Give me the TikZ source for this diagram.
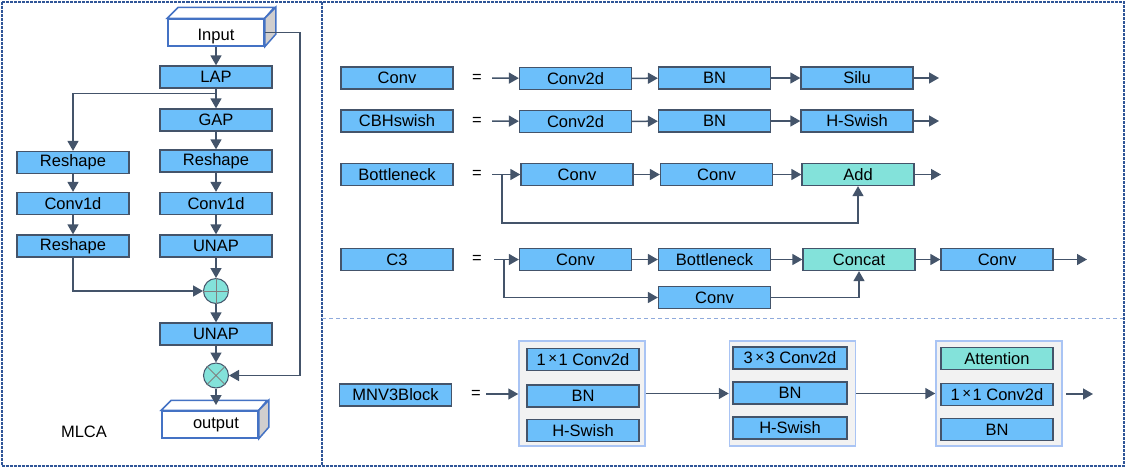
\documentclass[tikz,border=0pt]{standalone}
\usepackage{fontspec}
\setmainfont{Liberation Sans}
\usetikzlibrary{arrows.meta}
\definecolor{boxblue}{HTML}{6CBFFA}
\definecolor{edgegray}{HTML}{44546A}
\definecolor{addteal}{HTML}{83E2DA}
\definecolor{frameblue}{HTML}{2F5597}
\definecolor{lineblue}{HTML}{8FAADC}
\definecolor{groupedge}{HTML}{A9C4F4}
\definecolor{cubeblue}{HTML}{4472C4}
\definecolor{sidegray}{HTML}{D0CECE}
\newcommand{\tms}{\kern2.5pt\raisebox{1.5pt}{\fontsize{15}{15}\selectfont ×}\kern1.5pt}
\tikzset{
    blk/.style={draw=edgegray,line width=1.3pt,fill=boxblue,minimum width=112pt,minimum height=22pt,inner sep=0pt},
    tealblk/.style={blk,fill=addteal},
    grp/.style={draw=groupedge,line width=1.5pt,fill=black!5,minimum width=126pt,minimum height=105pt,inner sep=0pt},
    opnode/.style={circle,draw=edgegray,line width=1pt,fill=addteal,minimum size=25pt,inner sep=0pt},
    arr/.style={draw=edgegray,line width=1.5pt,-{Triangle[length=10pt,width=11pt]}},
    cube/.style={draw=cubeblue,line width=1.5pt,line join=miter},
}
\begin{document}
\begin{tikzpicture}[x=1pt,y=-1pt,font=\fontsize{16.5}{19}\selectfont]
        \useasboundingbox (0,0) rectangle (1125,467);
        \draw[frameblue,line width=2pt,dash pattern=on 3pt off 1pt] (1.5,1.5) rectangle (1123.5,465.5);
        \draw[frameblue,line width=2pt,dash pattern=on 3pt off 1pt] (322,1.5) -- (322,465.5);
        \draw[lineblue,line width=1pt,dash pattern=on 4pt off 3pt] (322,318) -- (1123,318);
        % MLCA
        \node[cube,fill=white,minimum width=96pt,minimum height=27pt] (inbox) at (216,32.5) {};
        \draw[cube,fill=white] (inbox.north west) -- ++(11,-11) -- ++(96,0) -- (inbox.north east) -- cycle;
        \draw[cube,fill=sidegray] (inbox.north east) -- ++(11,-11) -- ++(0,27) -- (inbox.south east) -- cycle;
        \node (intext) at (216,37) {Input};
        \node[blk] (lap) at (216,77) {LAP};
        \node[blk] (gap) at (216,120) {GAP};
        \node[blk] (rsR) at (216,161) {Reshape};
        \node[blk] (cvR) at (216,203.5) {Conv1d};
        \node[blk] (unap) at (216,246) {UNAP};
        \node[blk] (rsL) at (73,162.5) {Reshape};
        \node[blk] (cvL) at (73,203.5) {Conv1d};
        \node[blk] (rsL2) at (73,246) {Reshape};
        \node[opnode] (plus) at (216,291) {};
        \draw[gray,line width=1pt] (plus.north) -- (plus.south) (plus.west) -- (plus.east);
        \node[blk] (unap2) at (216,334) {UNAP};
        \node[opnode] (times) at (216,375.5) {};
        \draw[gray,line width=1pt] (times.north east) -- (times.south west) (times.north west) -- (times.south east);
        \node[cube,fill=white,minimum width=96pt,minimum height=27pt] (outbox) at (210,424.5) {};
        \draw[cube,fill=white] (outbox.north west) -- ++(10,-10) -- ++(96,0) -- (outbox.north east) -- cycle;
        \draw[cube,fill=sidegray] (outbox.north east) -- ++(10,-10) -- ++(0,27) -- (outbox.south east) -- cycle;
        \node (outtext) at (216,425) {output};
        \coordinate (outtop) at (216,405);
        \node (mlca) at (84,432) {MLCA};
        \draw[arr] (inbox) -- (lap);
        \draw[arr] (lap.south) -- ++(0,5) -| (rsL);
        \foreach \a/\b in {lap/gap,gap/rsR,rsR/cvR,cvR/unap,unap/plus,rsL/cvL,cvL/rsL2,plus/unap2,unap2/times,times/outtop}
            \draw[arr] (\a) -- (\b);
        \draw[arr] (rsL2) |- (plus);
        \draw[arr] (inbox.east) -- ++(35,0) |- (times);
        % Conv
        \node[blk] (convL) at (397,78) {Conv};
        \node (eqA) at (477,78) {=};
        \node[blk] (convA) at (575.5,78.5) {Conv2d};
        \node[blk] (convB) at (714.5,78) {BN};
        \node[blk] (convC) at (857,78) {Silu};
        \coordinate (convIn) at (492,78);
        \coordinate (convOut) at (939,78);
        % CBHswish
        \node[blk] (cbhL) at (397,121) {CBHswish};
        \node (eqB) at (477,121) {=};
        \node[blk] (cbhA) at (575.5,121.5) {Conv2d};
        \node[blk] (cbhB) at (714.5,121) {BN};
        \node[blk] (cbhC) at (857,121) {H-Swish};
        \coordinate (cbhIn) at (492,121);
        \coordinate (cbhOut) at (939,121);
        % Bottleneck
        \node[blk] (botL) at (397,174.5) {Bottleneck};
        \node (eqC) at (477,174.5) {=};
        \node[blk] (botA) at (577,174.5) {Conv};
        \node[blk] (botB) at (716.5,174.5) {Conv};
        \node[tealblk] (botC) at (858,174.5) {Add};
        \coordinate (botIn) at (492,174.5);
        \coordinate (botOut) at (941,174.5);
        \coordinate (botLoop) at (502,223);
        \draw[arr] (botLoop |- botIn) -- (botLoop) -| (botC);
        % C3
        \node[blk] (c3L) at (397,259.5) {C3};
        \node (eqD) at (477,259.5) {=};
        \node[blk] (c3A) at (575.5,259.5) {Conv};
        \node[blk] (c3B) at (714.5,259.5) {Bottleneck};
        \node[tealblk] (c3C) at (859,259.5) {Concat};
        \node[blk] (c3D) at (997,259.5) {Conv};
        \node[blk] (c3G) at (714.5,297.5) {Conv};
        \coordinate (c3In) at (494,259.5);
        \coordinate (c3Out) at (1087,259.5);
        \coordinate (c3Fork) at (504,259.5);
        \draw[arr] (c3Fork) |- (c3G);
        \draw[arr] (c3G) -| (c3C);
        \foreach \a/\b in {convIn/convA,convA/convB,convB/convC,convC/convOut,
                           cbhIn/cbhA,cbhA/cbhB,cbhB/cbhC,cbhC/cbhOut,
                           botIn/botA,botA/botB,botB/botC,botC/botOut,
                           c3In/c3A,c3A/c3B,c3B/c3C,c3C/c3D,c3D/c3Out}
            \draw[arr] (\a) -- (\b);
        % MNV3Block
        \node[blk] (mnvL) at (395.5,395) {MNV3Block};
        \node (eqE) at (476,394) {=};
        \node[grp] (g1) at (582,393.5) {};
        \node[grp] (g2) at (792.5,393.5) {};
        \node[grp] (g3) at (999,393.5) {};
        \node[blk] (g1a) at (583,359.5) {1\tms1 Conv2d};
        \node[blk] (g1b) at (583,396) {BN};
        \node[blk] (g1c) at (583,430.5) {H-Swish};
        \node[blk,minimum width=114pt] (g2a) at (790,358) {3\tms3 Conv2d};
        \node[blk,minimum width=114pt] (g2b) at (790,393) {BN};
        \node[blk,minimum width=114pt] (g2c) at (790,428) {H-Swish};
        \node[tealblk] (g3a) at (997,358.5) {Attention};
        \node[blk] (g3b) at (997,394.5) {1\tms1 Conv2d};
        \node[blk] (g3c) at (997,429.5) {BN};
        \coordinate (mnvIn) at (486,394);
        \coordinate (mnvA) at (1066,394);
        \coordinate (mnvB) at (1093,394);
        \draw[arr] (mnvIn) -- (g1.west |- mnvIn);
        \draw[arr] (g1) -- (g2);
        \draw[arr] (g2) -- (g3);
        \draw[arr] (mnvA) -- (mnvB);
    \end{tikzpicture}
\end{document}
